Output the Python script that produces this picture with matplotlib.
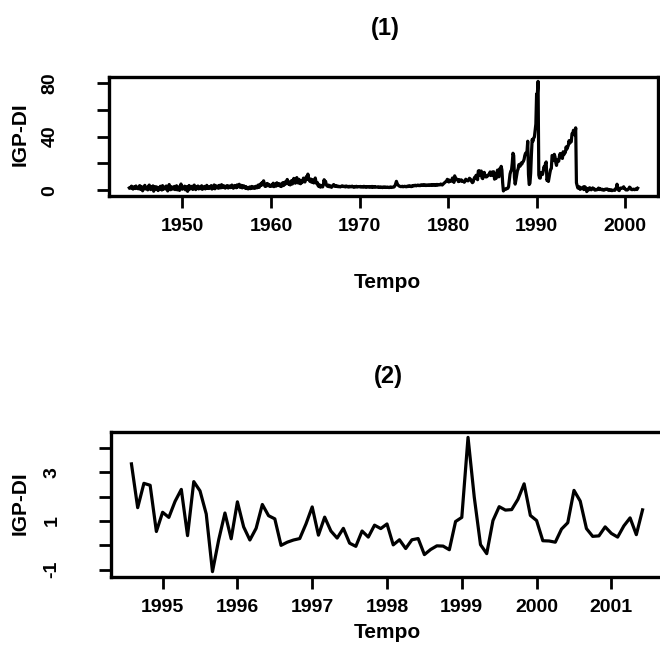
import matplotlib
matplotlib.use('Agg')
import matplotlib.pyplot as plt
import numpy as np


# ----------- DATA: monthly IGP-DI (% per month) ------------
# (1) long series, starting Jan 1944
igp_1944_1949 = [
    1.7, 2.1, 1.5, 3.0, 2.4, 0.8, 1.9, 2.6, 1.2, 3.1, 2.0, 1.4,
    1.0, 2.2, 3.4, 0.6, 2.8, 1.7, -0.5, 2.3, 1.1, 3.6, 0.9, 2.0,
    1.8, 0.2, 2.9, 3.8, 1.3, 0.4, 2.7, 1.6, 3.2, -0.8, 1.9, 2.5,
    0.6, 2.4, 1.1, -0.3, 1.8, 0.5, 2.9, 1.2, 0.1, 3.4, 0.7, 1.5,
    2.2, 0.9, 3.1, 1.4, -0.6, 2.0, 4.2, 1.0, 0.3, 2.6, 1.7, 0.8,
    1.5, 2.8, 0.4, 1.9, 3.3, 0.2, 1.6, 2.4, -0.2, 1.8, 4.6, 1.1,
]
igp_1950s = [
    0.7, 2.1, 1.3, 3.0, 0.2, 1.9, 2.6, -0.9, 1.4, 3.5, 0.8, 2.2,
    1.6, 2.9, 0.5, 2.3, 3.8, 1.2, 0.4, 2.7, 1.8, 3.1, 0.9, 2.0,
    2.4, 1.1, 3.3, 0.6, 2.0, 1.5, 2.8, 0.9, 1.7, 3.6, 1.3, 2.1,
    1.2, 2.6, 1.9, 3.4, 0.8, 2.3, 1.6, 3.9, 1.0, 2.5, 3.2, 1.8,
    2.9, 1.4, 3.6, 2.2, 1.7, 4.1, 2.4, 1.9, 3.3, 2.6, 1.5, 3.0,
    2.0, 3.4, 1.6, 2.7, 3.1, 1.9, 2.5, 3.8, 2.2, 1.4, 2.9, 3.5,
    2.6, 1.8, 3.9, 2.4, 3.2, 4.4, 2.1, 2.9, 3.6, 1.7, 2.8, 3.3,
    2.3, 1.5, 2.7, 1.2, 2.0, 0.9, 1.6, 2.4, 1.1, 1.9, 2.8, 1.4,
    1.8, 2.5, 1.3, 2.2, 3.0, 1.7, 2.6, 3.9, 2.1, 3.3, 4.7, 3.6,
    5.8, 4.2, 7.0, 3.9, 2.8, 4.4, 3.1, 5.0, 3.6, 4.3, 2.9, 3.5,
]
igp_1960s = [
    2.9, 4.1, 3.2, 5.2, 2.6, 3.8, 4.6, 3.0, 5.5, 3.7, 4.0, 4.8,
    3.1, 4.5, 2.7, 3.9, 5.6, 3.4, 4.2, 6.1, 4.7, 5.9, 8.0, 5.3,
    4.4, 6.2, 3.9, 5.1, 7.2, 4.6, 5.7, 8.8, 6.0, 5.2, 7.5, 9.4,
    6.8, 5.3, 8.1, 5.9, 4.8, 7.0, 5.6, 6.4, 9.0, 7.3, 6.1, 8.5,
    10.2, 8.1, 12.0, 9.0, 7.2, 6.5, 8.3, 5.9, 7.7, 6.6, 5.4, 6.9,
    9.1, 6.3, 4.8, 5.6, 3.2, 2.7, 3.9, 2.2, 2.8, 3.5, 2.4, 4.1,
    7.8, 5.2, 6.6, 4.0, 3.1, 2.9, 3.8, 2.5, 3.3, 2.6, 2.1, 3.0,
    3.6, 4.2, 3.0, 2.8, 3.3, 2.7, 3.1, 2.5, 2.9, 2.6, 2.4, 2.8,
    3.2, 2.7, 3.0, 2.6, 2.9, 2.4, 3.1, 2.6, 2.8, 2.3, 2.9, 2.5,
    2.8, 2.5, 3.0, 2.4, 2.7, 2.2, 2.8, 2.5, 2.9, 2.3, 2.6, 2.7,
]
igp_1970s = [
    2.5, 2.8, 2.3, 2.6, 2.4, 2.2, 2.9, 2.5, 2.2, 2.7, 2.3, 2.6,
    2.4, 2.7, 2.2, 2.5, 2.3, 2.8, 2.1, 2.4, 2.6, 2.2, 2.5, 2.3,
    2.3, 2.1, 2.5, 2.2, 2.0, 2.4, 2.2, 1.9, 2.3, 2.1, 2.4, 2.0,
    2.2, 2.0, 2.3, 2.1, 1.9, 2.2, 2.4, 2.0, 2.1, 2.3, 2.2, 2.5,
    3.3, 4.8, 6.6, 5.0, 3.9, 3.4, 3.0, 2.8, 2.6, 2.7, 2.9, 2.5,
    2.7, 2.9, 2.6, 2.8, 2.5, 3.0, 2.7, 3.2, 2.8, 3.1, 2.6, 2.9,
    3.4, 3.1, 3.6, 3.3, 3.7, 3.2, 3.5, 3.8, 3.4, 3.6, 3.3, 3.9,
    4.0, 3.6, 3.8, 3.5, 4.1, 3.7, 3.4, 3.9, 3.6, 3.8, 3.5, 4.0,
    3.8, 3.6, 4.1, 3.7, 4.2, 3.9, 3.5, 4.0, 3.8, 4.3, 3.7, 4.1,
    4.2, 3.9, 4.6, 4.3, 3.8, 4.4, 4.9, 5.4, 6.0, 6.4, 6.7, 8.1,
]
igp_1980s = [
    7.5, 6.1, 7.5, 6.8, 7.2, 6.8, 9.1, 7.2, 5.8, 10.7, 8.2, 8.1,
    8.3, 7.7, 6.4, 7.9, 6.9, 6.9, 7.7, 6.6, 6.8, 6.5, 5.9, 6.7,
    8.2, 7.2, 7.3, 6.9, 7.5, 8.9, 8.3, 7.8, 6.4, 5.6, 6.1, 8.1,
    9.6, 8.8, 11.1, 10.1, 7.8, 14.3, 14.6, 11.1, 13.8, 14.3, 9.1, 8.6,
    10.8, 13.3, 11.0, 9.9, 9.9, 10.2, 11.3, 11.6, 11.5, 13.6, 10.9, 11.5,
    13.6, 11.2, 13.7, 8.2, 8.8, 8.8, 9.9, 15.0, 10.1, 10.0, 16.0, 14.4,
    17.8, 15.0, 5.5, -0.6, 0.3, 0.5, 0.6, 1.3, 1.1, 1.4, 2.5, 7.6,
    12.0, 14.1, 15.0, 20.1, 27.6, 25.9, 9.3, 4.5, 8.0, 11.2, 14.5, 15.9,
    19.1, 17.7, 18.2, 20.3, 19.5, 20.8, 21.5, 22.9, 25.8, 27.6, 28.0, 28.9,
    36.6, 11.8, 4.2, 5.2, 12.8, 26.8, 37.9, 36.5, 38.9, 39.7, 44.3, 49.4,
]
igp_1990_1994 = [
    71.9, 71.7, 81.3, 11.3, 9.1, 9.0, 13.0, 12.9, 11.7, 14.2, 17.5, 16.5,
    19.9, 21.1, 7.3, 8.7, 6.5, 9.9, 12.8, 15.5, 16.2, 25.9, 25.8, 22.1,
    26.8, 24.8, 20.7, 18.5, 22.5, 21.4, 21.7, 25.5, 27.4, 24.9, 24.2, 23.7,
    28.7, 26.5, 27.8, 28.2, 32.3, 30.7, 32.0, 33.5, 37.0, 35.1, 37.0, 36.2,
    42.2, 42.4, 44.8, 42.5, 41.0, 46.6, 5.5,
]
# (2) after the Real plan, Aug 1994 - Jun 2001
igp_real = [
    3.35, 1.55, 2.55, 2.47, 0.57,
    1.36, 1.15, 1.81, 2.30, 0.40, 2.62, 2.24, 1.29, -1.08, 0.23, 1.33, 0.27,
    1.79, 0.76, 0.22, 0.70, 1.68, 1.22, 1.09, 0.00, 0.13, 0.22, 0.28, 0.88,
    1.58, 0.42, 1.16, 0.59, 0.30, 0.70, 0.09, -0.04, 0.59, 0.34, 0.83, 0.69,
    0.88, 0.02, 0.23, -0.13, 0.23, 0.28, -0.38, -0.17, -0.02, -0.03, -0.18, 0.98,
    1.15, 4.44, 1.98, 0.03, -0.34, 1.02, 1.59, 1.45, 1.47, 1.89, 2.53, 1.23,
    1.02, 0.19, 0.18, 0.13, 0.67, 0.93, 2.26, 1.82, 0.69, 0.37, 0.39, 0.76,
    0.49, 0.34, 0.80, 1.13, 0.44, 1.46,
]
start_long = (1944, 1)
start_real = (1994, 8)

x_ticks_1 = [1950, 1960, 1970, 1980, 1990, 2000]
y_ticks_1 = [0, 20, 40, 60, 80]
y_labels_1 = ['0', '', '40', '', '80']
x_ticks_2 = [1995, 1996, 1997, 1998, 1999, 2000, 2001]
y_ticks_2 = [-1, 0, 1, 2, 3, 4]
y_labels_2 = ['-1', '', '1', '', '3', '']

FONT = 'Liberation Sans'
W, H = 660, 650


# ----------- HELPER -----------
def ts_time(values, start):
    '''time axis like R ts(): year + (month-1)/12'''
    t0 = start[0] + (start[1] - 1) / 12
    return t0 + np.arange(len(values)) / 12


def r_range(lo, hi):
    '''R pads the data range by 4% on both sides'''
    ext = 0.04 * (hi - lo)
    return lo - ext, hi + ext


def px(x, y):
    return x / W, 1 - y / H


def box(left, top, right, bottom):
    '''axes rectangle from pixel edges'''
    return [left / W, 1 - bottom / H, (right - left) / W, (bottom - top) / H]


# ----------- Plot the Data ------------
def draw_panel(fig, rect, t, y, x_ticks, y_ticks, y_labels):
    ax = fig.add_axes(rect)
    ax.plot(t, y, color='black', lw=2.3, solid_joinstyle='round')
    ax.set_xlim(*r_range(t.min(), t.max()))
    ax.set_ylim(*r_range(min(y), max(y)))

    ax.set_xticks(x_ticks)
    ax.set_xticklabels([str(v) for v in x_ticks], fontfamily=FONT, fontsize=14, fontweight='bold')
    ax.set_yticks(y_ticks)
    ax.set_yticklabels(y_labels, fontfamily=FONT, fontsize=14, fontweight='bold',
                       rotation=90, va='center')

    ax.tick_params(direction='out', length=8.5, width=2, color='black')
    ax.tick_params(axis='x', pad=7)
    ax.tick_params(axis='y', pad=28)
    for s in ax.spines.values():
        s.set_linewidth(2.4)
    return ax


def main():
    long_series = igp_1944_1949 + igp_1950s + igp_1960s + igp_1970s + igp_1980s + igp_1990_1994 + igp_real
    t_long = ts_time(long_series, start_long)
    t_real = ts_time(igp_real, start_real)

    fig = plt.figure(figsize=(W / 100, H / 100), dpi=100)

    draw_panel(fig, box(109, 77, 658, 196),
               t_long, long_series, x_ticks_1, y_ticks_1, y_labels_1)
    draw_panel(fig, box(111, 432, 663, 577),
               t_real, igp_real, x_ticks_2, y_ticks_2, y_labels_2)

    txt = dict(fontfamily=FONT, fontweight='bold', ha='center', va='center')
    fig.text(*px(385, 29), '(1)', fontsize=17, **txt)
    fig.text(*px(388, 377), '(2)', fontsize=17, **txt)
    fig.text(*px(387, 283), 'Tempo', fontsize=15, **txt)
    fig.text(*px(387, 633), 'Tempo', fontsize=15, **txt)
    fig.text(*px(20, 134), 'IGP-DI', fontsize=15, rotation=90, **txt)
    fig.text(*px(20, 503), 'IGP-DI', fontsize=15, rotation=90, **txt)

    fig.savefig('out.png', dpi=100)


if __name__ == '__main__':
    main()
